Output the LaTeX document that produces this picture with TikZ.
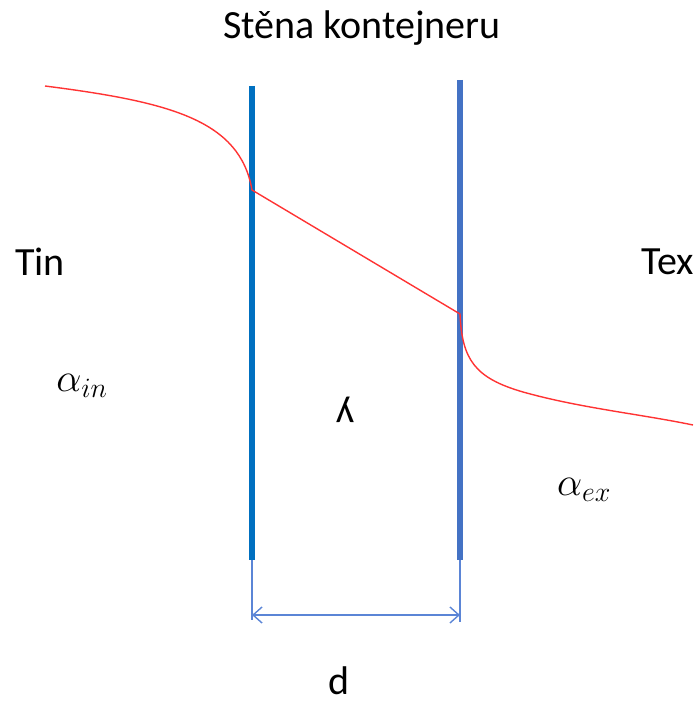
\RequirePackage{fix-cm}
\documentclass[tikz,border=0pt]{standalone}
\usepackage{fontspec}
\setmainfont{Carlito}
\usetikzlibrary{arrows.meta}
\definecolor{cwallin}{HTML}{0070C0}
\definecolor{cwallex}{HTML}{4472C4}
\definecolor{cdim}{HTML}{5B85D6}
\definecolor{ctemp}{HTML}{FF3333}
\tikzset{
  every picture/.style={x=1pt, y=-1pt},
  lbl/.style={font=\fontsize{40}{48}\selectfont, inner sep=0pt},
  wall/.style={draw=#1, line width=6pt},
  temp/.style={draw=ctemp, line width=1.4pt},
  dimline/.style={draw=cdim, line width=1.4pt},
  dimarrow/.style={dimline, {Straight Barb[length=9pt, width=16pt]}-{Straight Barb[length=9pt, width=16pt]}},
}

\begin{document}
\begin{tikzpicture}
  \useasboundingbox (0,0) rectangle (696,706);
  % labels
  \node[lbl] (title) at (362,28) {Stěna kontejneru};
  \node[lbl] (tin) at (40,262) {Tin};
  \node[lbl] (tex) at (668,262) {Tex};
  \node[lbl] (ain) at (82,386) {$\alpha_{in}$};
  \node[lbl] (aex) at (584,490) {$\alpha_{ex}$};
  \node[lbl, rotate=180] (lam) at (345,410) {y};
  \node[lbl] (d) at (339,681) {d};
  % walls
  \coordinate (inTop) at (252,86);
  \coordinate (inBot) at (252,560);
  \coordinate (exTop) at (460,80);
  \coordinate (exBot) at (460,560);
  \draw[wall=cwallin] (inTop) -- (inBot);
  \draw[wall=cwallex] (exTop) -- (exBot);
  % temperature profile
  \coordinate (tStart) at (45,86);
  \coordinate (tIn) at (252,190);
  \coordinate (tEx) at (460,314);
  \coordinate (tEnd) at (693,425);
  \draw[temp] (tStart) .. controls (170,102) and (240,120) .. (tIn) -- (tEx)
    .. controls (462,360) and (475,378) .. (523,392)
    .. controls (580,408) and (640,414) .. (tEnd);
  % thickness d
  \coordinate (dL) at (252,620);
  \coordinate (dR) at (460,622);
  \draw[dimline] (inBot) -- (dL);
  \draw[dimline] (exBot) -- (dR);
  \draw[dimarrow] (252,615) -- (460,615);
\end{tikzpicture}
\end{document}
